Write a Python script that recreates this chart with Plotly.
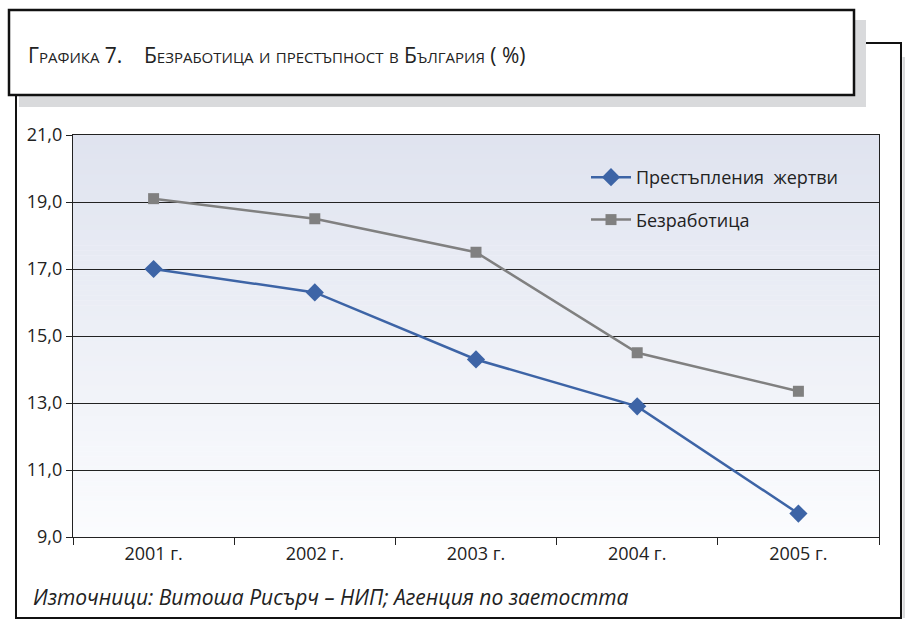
import plotly.graph_objects as go

years = ["2001 г.", "2002 г.", "2003 г.", "2004 г.", "2005 г."]
crime_victims = [17.0, 16.3, 14.3, 12.9, 9.7]
unemployment = [19.1, 18.5, 17.5, 14.5, 13.35]
series_names = ["Престъпления  жертви", "Безработица"]
y_ticks = [9, 11, 13, 15, 17, 19, 21]

W, H = 905, 620
L, R, T, B = 73, 879, 135, 537
pw, ph = R - L, B - T


def px(x):
    return (x - L) / pw


def py(y):
    return (B - y) / ph


FONT = "Open Sans, Noto Sans, DejaVu Sans, sans-serif"
TOP = (223, 227, 239)
BOT = (251, 252, 254)


def grad(t):
    c = tuple(round(TOP[k] + (BOT[k] - TOP[k]) * t) for k in range(3))
    return "rgb(%d,%d,%d)" % c


fig = go.Figure()
fig.add_trace(go.Scatter(
    x=years, y=crime_victims, name=series_names[0], mode="lines+markers",
    line=dict(color="#3d64a6", width=2.5),
    marker=dict(symbol="diamond", size=14, color="#3d64a6"),
    legendgroup="a"))
fig.add_trace(go.Scatter(
    x=years, y=unemployment, name=series_names[1], mode="lines+markers",
    line=dict(color="#808080", width=2.5),
    marker=dict(symbol="square", size=11, color="#808080"),
    legendgroup="b"))

shapes = []
# gradient background of plot area
n = 80
for i in range(n):
    t = (i + 0.5) / n
    shapes.append(dict(type="rect", xref="paper", yref="paper",
                       x0=0, x1=1, y0=1 - (i + 1) / n, y1=1 - i / n + 0.001,
                       fillcolor=grad(t), line=dict(width=0), layer="below"))
# legend backdrop hiding the grid line (same gradient)
for yy in range(192, 212, 2):
    t = (yy + 1 - T) / ph
    shapes.append(dict(type="rect", xref="paper", yref="paper",
                       x0=px(567), x1=px(847), y0=py(yy + 2.2), y1=py(yy),
                       fillcolor=grad(t), line=dict(width=0), layer="between"))
# title box shadow and box
shapes.append(dict(type="rect", xref="paper", yref="paper",
                   x0=px(19), x1=px(866), y0=py(107), y1=py(20),
                   fillcolor="#d9dadc", line=dict(width=0)))
shapes.append(dict(type="rect", xref="paper", yref="paper",
                   x0=px(9), x1=px(854), y0=py(95), y1=py(10),
                   fillcolor="white", line=dict(color="#111", width=2.5)))
# outer frame
shapes.append(dict(type="rect", xref="paper", yref="paper",
                   x0=px(902.5), x1=px(905), y0=py(618), y1=py(57),
                   fillcolor="#d9dadc", line=dict(width=0)))
shapes.append(dict(type="path", xref="paper", yref="paper",
                   path="M %f,%f L %f,%f L %f,%f L %f,%f L %f,%f" % (
                       px(866), py(43), px(901), py(43), px(901), py(618),
                       px(16), py(618), px(16), py(95)),
                   line=dict(color="#111", width=2)))

annotations = [
    dict(text="Графика 7.", x=px(26), y=py(55), xref="paper", yref="paper",
         xanchor="left", yanchor="middle", showarrow=False,
         font=dict(family=FONT, size=21, color="#222", variant="small-caps")),
    dict(text="Безработица и престъпност в България ( %)", x=px(142), y=py(55),
         xref="paper", yref="paper", xanchor="left", yanchor="middle",
         showarrow=False,
         font=dict(family=FONT, size=21, color="#222", variant="small-caps")),
    dict(text="Източници: Витоша Рисърч – НИП; Агенция по заетостта",
         x=px(31), y=py(597), xref="paper", yref="paper", xanchor="left",
         yanchor="middle", showarrow=False,
         font=dict(family=FONT, size=21, color="#222", style="italic")),
]

fig.update_layout(
    width=W, height=H,
    margin=dict(l=L, r=W - R, t=T, b=H - B, pad=0),
    paper_bgcolor="white", plot_bgcolor="white",
    separators=", ",
    font=dict(family=FONT, size=18, color="#222"),
    shapes=shapes, annotations=annotations,
    showlegend=True,
    legend=dict(x=px(586), y=py(159), xanchor="left", yanchor="top",
                bgcolor="rgba(0,0,0,0)", borderwidth=0, traceorder="grouped",
                tracegroupgap=16, font=dict(family=FONT, size=18, color="#222"),
                itemwidth=40),
    xaxis=dict(type="category", tickson="boundaries", ticks="outside",
               ticklen=7, tickcolor="#222", tickwidth=1.3, showgrid=False,
               showline=True, linecolor="#222", linewidth=1.3, mirror=True,
               tickfont=dict(size=18), range=[-0.5, 4.5]),
    yaxis=dict(range=[9, 21], tickvals=y_ticks, tickformat=".1f",
               ticks="outside", ticklen=6, tickcolor="#222", tickwidth=1.3,
               showgrid=True, gridcolor="#222", gridwidth=1.3,
               showline=True, linecolor="#222", linewidth=1.3, mirror=True,
               zeroline=False, tickfont=dict(size=18)),
)

fig.write_html("out.html", config={"displayModeBar": False},
               post_script="document.body.style.margin='0';"
                           "document.body.style.padding='0';")
